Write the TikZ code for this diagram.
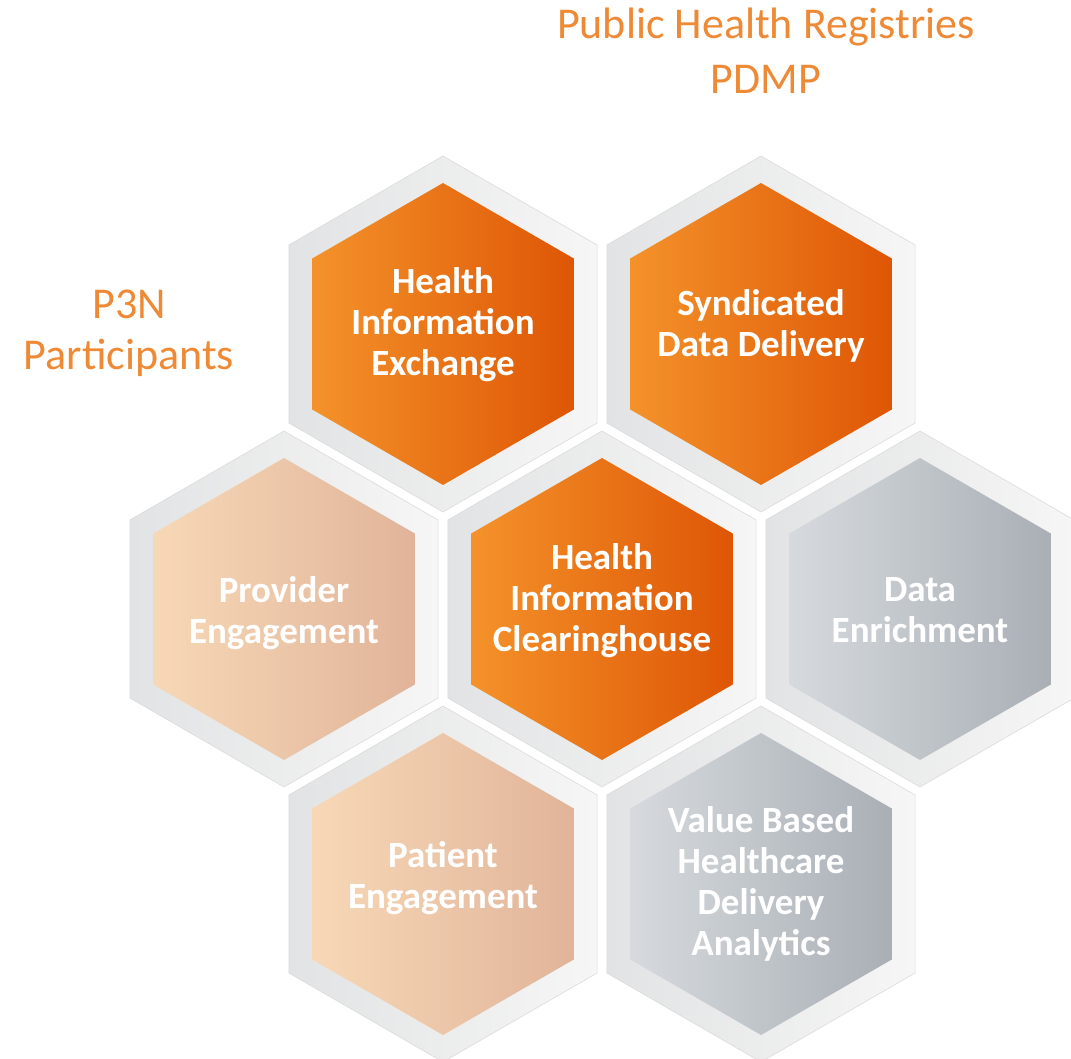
\documentclass[tikz,border=0pt]{standalone}
\usepackage{fontspec}
\setmainfont{Carlito}
\usepackage{tikz}
\usetikzlibrary{shapes.geometric,positioning}
\definecolor{orl}{HTML}{F4922A}
\definecolor{orr}{HTML}{DE5605}
\definecolor{pel}{HTML}{F7D8B6}
\definecolor{per}{HTML}{E1B49A}
\definecolor{grl}{HTML}{D6DADE}
\definecolor{grr}{HTML}{A9AFB5}
\definecolor{frl}{HTML}{E2E3E4}
\definecolor{frr}{HTML}{F6F6F6}
\definecolor{capor}{HTML}{EE8A36}
\tikzset{hexframe/.style={regular polygon,regular polygon sides=6,shape border rotate=30,
        minimum size=356pt,inner sep=0pt,outer sep=0pt,left color=frl,right color=frr,draw=black!14,line width=0.6pt},
    hexcell/.style={regular polygon,regular polygon sides=6,shape border rotate=30,
        minimum size=302pt,inner sep=0pt,outer sep=0pt},
    orangecell/.style={hexcell,left color=orl,right color=orr},
    peachcell/.style={hexcell,left color=pel,right color=per},
    greycell/.style={hexcell,left color=grl,right color=grr},
    celltext/.style={text=white,align=center,inner sep=0pt,font=\fontsize{37}{41}\selectfont\bfseries},
    caption/.style={text=capor,align=center,font=\fontsize{44}{55}\selectfont}}
\begin{document}
\begin{tikzpicture}[x=1pt,y=-1pt]
\useasboundingbox (0,0) rectangle (1071,1059);

% frames
\node [hexframe] (hief) at (443,334) {};
\node [hexframe] (sddf) at (761,334) {};
\node [hexframe] (provf) at (284,609) {};
\node [hexframe] (hicf) at (602,609) {};
\node [hexframe] (enrf) at (920,609) {};
\node [hexframe] (patf) at (443,884) {};
\node [hexframe] (vbhf) at (761,884) {};

% cells
\node [orangecell] (hie) at (hief) {};
\node [orangecell] (sdd) at (sddf) {};
\node [peachcell] (prov) at (provf) {};
\node [orangecell] (hic) at (hicf) {};
\node [greycell] (enr) at (enrf) {};
\node [peachcell] (pat) at (patf) {};
\node [greycell] (vbh) at (vbhf) {};

\node [celltext,yshift=9pt] (hiet) at (hie) {Health\\Information\\Exchange};
\node [celltext,yshift=8pt] (sddt) at (sdd) {Syndicated\\Data Delivery};
\node [celltext,yshift=-4pt] (provt) at (prov) {Provider\\Engagement};
\node [celltext,yshift=8pt] (hict) at (hic) {Health\\Information\\Clearinghouse};
\node [celltext,yshift=-1pt] (enrt) at (enr) {Data\\Enrichment};
\node [celltext,yshift=6pt] (patt) at (pat) {Patient\\Engagement};
\node [celltext] (vbht) at (vbh) {Value Based\\Healthcare\\Delivery\\Analytics};

% captions
\node [caption] (registries) at (766,51) {Public Health Registries\\PDMP};
\node [caption,font=\fontsize{44}{51}\selectfont] (p3n) at (129,333) {P3N\\Participants};

\end{tikzpicture}
\end{document}
